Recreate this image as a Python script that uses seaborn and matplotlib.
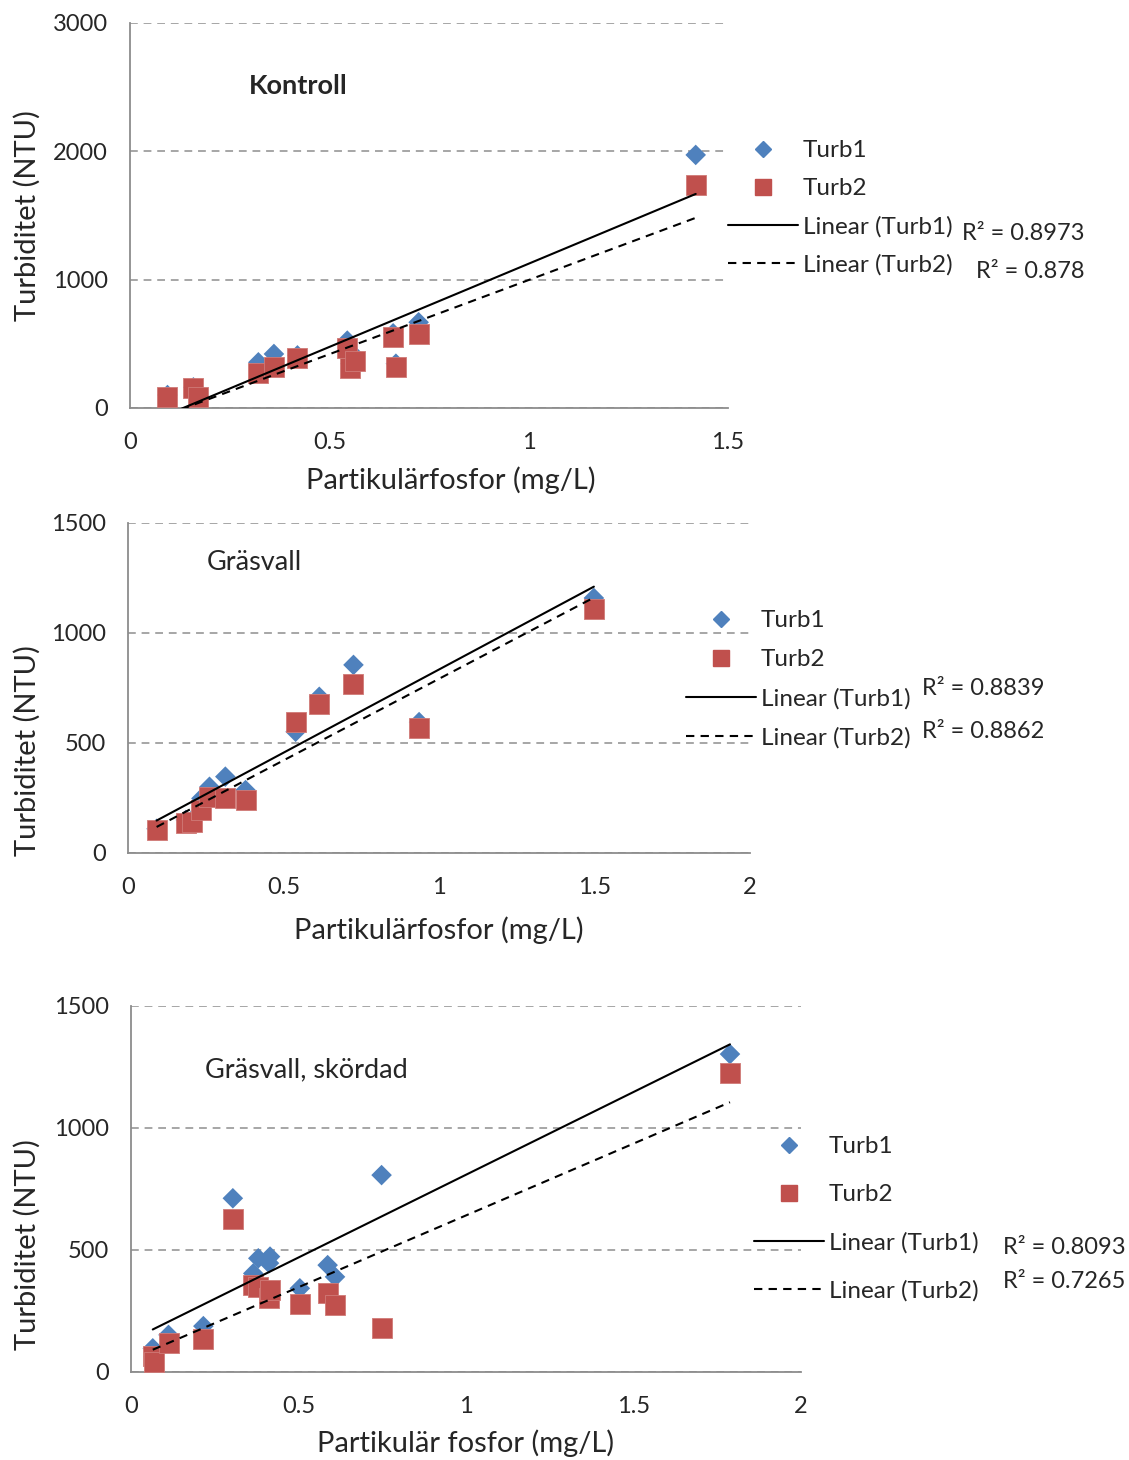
import numpy as np
import pandas as pd
import matplotlib
matplotlib.use('Agg')
import matplotlib.pyplot as plt
import seaborn as sns
from matplotlib.lines import Line2D

sns.set_style('white')
plt.rcParams['font.family'] = ['Lato', 'DejaVu Sans']

# Kontroll
kontroll_x = [0.094, 0.159, 0.171, 0.322, 0.361, 0.420, 0.545, 0.553, 0.564, 0.660, 0.667, 0.724, 1.419]
kontroll_t1 = [101, 161, 100, 356, 421, 410, 525, 345, 405, 582, 345, 668, 1972]
kontroll_t2 = [83, 153, 88, 270, 317, 392, 465, 309, 369, 551, 322, 574, 1738]

# Gräsvall
grasvall_x = [0.092, 0.186, 0.205, 0.236, 0.262, 0.313, 0.378, 0.539, 0.615, 0.725, 0.936, 1.498]
grasvall_t1 = [110, 150, 148, 248, 301, 347, 286, 551, 710, 855, 595, 1159]
grasvall_t2 = [104, 135, 142, 195, 256, 248, 241, 597, 677, 768, 568, 1109]

# Gräsvall, skördad
skordad_x = [0.065, 0.068, 0.112, 0.216, 0.304, 0.365, 0.380, 0.412, 0.415, 0.504, 0.587, 0.609, 0.748, 1.788]
skordad_t1 = [97, 62, 152, 188, 712, 404, 466, 446, 473, 343, 438, 390, 807, 1303]
skordad_t2 = [66, 41, 118, 134, 626, 356, 350, 302, 336, 279, 322, 275, 182, 1225]

r2_texts = [['R² = 0.8973', 'R² = 0.878'],
            ['R² = 0.8839', 'R² = 0.8862'],
            ['R² = 0.8093', 'R² = 0.7265']]
titles = ['Kontroll', 'Gräsvall', 'Gräsvall, skördad']
xlabels = ['Partikulärfosfor (mg/L)', 'Partikulärfosfor (mg/L)', 'Partikulär fosfor (mg/L)']

BLUE = '#4F81BD'
RED = '#C0504D'
GRID = '#A6A6A6'
W, H = 1129, 1460

fig = plt.figure(figsize=(W / 100, H / 100), dpi=100)

# axes boxes in pixels: left, top, right, bottom
boxes = [(130, 23, 728, 408), (128, 523, 750, 853), (131, 1006, 801, 1372)]
xlims = [(0, 1.5), (0, 2), (0, 2)]
ylims = [(0, 3000), (0, 1500), (0, 1500)]
ysteps = [1000, 500, 500]
title_pos = [(0.199, 0.836), (0.127, 0.879), (0.110, 0.825)]
title_weight = ['bold', 'normal', 'normal']
ylabel_y = [0.5, 0.309, 0.347]
xlabel_pos = [(0.537, -0.187), (0.5, -0.233), (0.5, -0.194)]
# legend: handle left x, first row y, row spacing
leg_pos = [(728, 150, 39), (686, 620, 40), (754, 1146, 49)]
r2_pos = [[(1085, 233), (1085, 271)], [(922, 688), (922, 731)], [(1003, 1247), (1003, 1282)]]
r2_ha = ['right', 'left', 'left']

datasets = [(kontroll_x, kontroll_t1, kontroll_t2),
            (grasvall_x, grasvall_t1, grasvall_t2),
            (skordad_x, skordad_t1, skordad_t2)]

for i, (xs, t1, t2) in enumerate(datasets):
    l, t, r, b = boxes[i]
    ax = fig.add_axes([l / W, 1 - b / H, (r - l) / W, (b - t) / H])
    df = pd.DataFrame({'x': xs, 't1': t1, 't2': t2})

    ax.set_xlim(*xlims[i])
    ax.set_ylim(*ylims[i])
    ax.set_yticks(np.arange(ylims[i][0], ylims[i][1] + 1, ysteps[i]))
    ax.set_xticks(np.arange(0, xlims[i][1] + 0.01, 0.5))
    ax.xaxis.set_major_formatter(plt.FuncFormatter(lambda v, p: ('%g' % v)))

    ax.grid(axis='y', color=GRID, linestyle=(0, (4, 3)), linewidth=1.4)
    ax.set_axisbelow(True)
    for s in ['top', 'right']:
        ax.spines[s].set_visible(False)
    for s in ['left', 'bottom']:
        ax.spines[s].set_color('#8C8C8C')
        ax.spines[s].set_linewidth(1.3)
    ax.tick_params(axis='both', length=5, width=1.2, color='#8C8C8C', labelsize=17, direction='out')
    ax.tick_params(axis='x', pad=12)
    ax.tick_params(axis='y', pad=11)

    sns.scatterplot(data=df, x='x', y='t1', marker='D', s=110, color=BLUE, edgecolor='none', ax=ax, zorder=3)
    sns.scatterplot(data=df, x='x', y='t2', marker='s', s=210, color=RED, edgecolor='#D07A77',
                    linewidth=0.6, ax=ax, zorder=4)
    sns.regplot(data=df, x='x', y='t1', scatter=False, ci=None, truncate=True, ax=ax,
                line_kws={'color': 'black', 'lw': 1.5, 'zorder': 5})
    sns.regplot(data=df, x='x', y='t2', scatter=False, ci=None, truncate=True, ax=ax,
                line_kws={'color': 'black', 'lw': 1.5, 'ls': (0, (4, 3)), 'zorder': 5})
    ax.set_xlim(*xlims[i])
    ax.set_ylim(*ylims[i])

    ax.set_xlabel(xlabels[i], fontsize=21)
    ax.set_ylabel('Turbiditet (NTU)', fontsize=21)
    ax.xaxis.set_label_coords(*xlabel_pos[i])
    ax.xaxis.label.set_va('center')
    ax.yaxis.set_label_coords((27 - l) / (r - l), ylabel_y[i])
    ax.yaxis.label.set_va('center')

    ax.text(title_pos[i][0], title_pos[i][1], titles[i], transform=ax.transAxes,
            fontsize=19.5, fontweight=title_weight[i], va='center', ha='left')

    # legend
    hx, hy, dy = leg_pos[i]
    handles = [Line2D([], [], marker='D', color=BLUE, ls='none', markersize=8.5),
               Line2D([], [], marker='s', color=RED, ls='none', markersize=12),
               Line2D([], [], color='black', lw=1.5),
               Line2D([], [], color='black', lw=1.5, ls=(0, (4, 3)))]
    labels = ['Turb1', 'Turb2', 'Linear (Turb1)', 'Linear (Turb2)']
    fs = 17.5
    fs_px = fs * 100 / 72
    ax.legend(handles, labels, loc='upper left', frameon=False, fontsize=fs,
              bbox_to_anchor=(hx / W, 1 - (hy - fs_px * 0.4) / H),
              bbox_transform=fig.transFigure, borderpad=0, borderaxespad=0,
              handlelength=70 / fs_px, handletextpad=0.2,
              labelspacing=(dy - fs_px * 0.91) / fs_px)

    for (px, py), txt in zip(r2_pos[i], r2_texts[i]):
        fig.text(px / W, 1 - py / H, txt, fontsize=17, ha=r2_ha[i], va='center')

fig.savefig('out.png', dpi=100)
